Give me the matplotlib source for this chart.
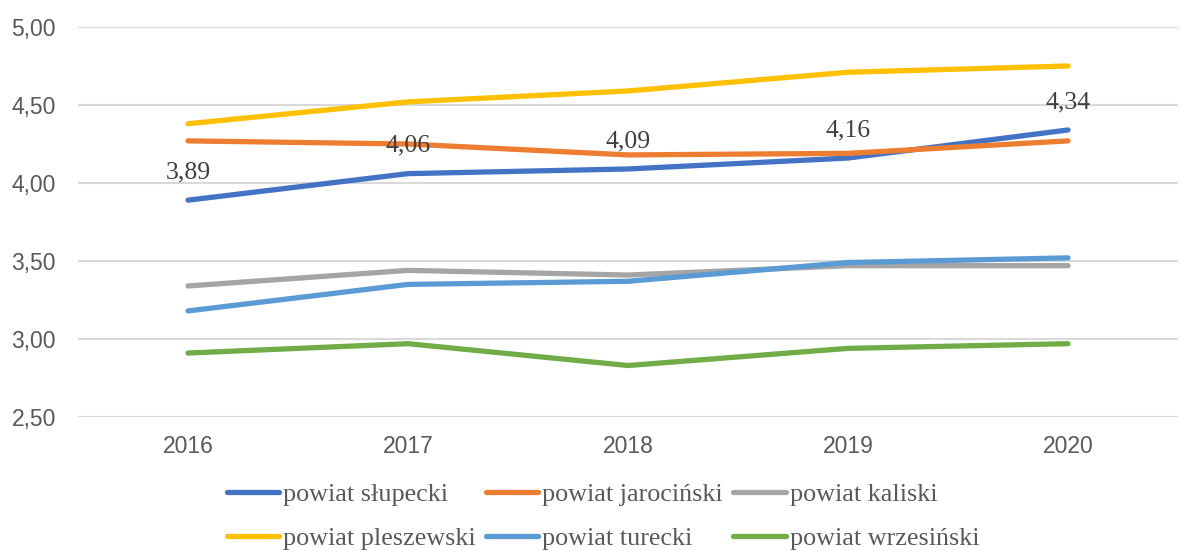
import matplotlib.pyplot as plt
from matplotlib.ticker import FuncFormatter

years = ["2016", "2017", "2018", "2019", "2020"]

slupecki = [3.89, 4.06, 4.09, 4.16, 4.34]
jarocinski = [4.27, 4.25, 4.18, 4.19, 4.27]
kaliski = [3.34, 3.44, 3.41, 3.47, 3.47]
pleszewski = [4.38, 4.52, 4.59, 4.71, 4.75]
turecki = [3.18, 3.35, 3.37, 3.49, 3.52]
wrzesinski = [2.91, 2.97, 2.83, 2.94, 2.97]

series = [
    ("powiat słupecki", slupecki, "#4472C4"),
    ("powiat jarociński", jarocinski, "#ED7D31"),
    ("powiat kaliski", kaliski, "#A5A5A5"),
    ("powiat pleszewski", pleszewski, "#FFC000"),
    ("powiat turecki", turecki, "#5B9BD5"),
    ("powiat wrzesiński", wrzesinski, "#70AD47"),
]

W, H = 1181, 551
fig = plt.figure(figsize=(W / 100, H / 100), dpi=100)
ax = fig.add_axes([78 / W, 1 - 417 / H, 1100 / W, 390 / H])

x = list(range(len(years)))
lines = {}
for name, vals, color in series:
    (ln,) = ax.plot(x, vals, color=color, lw=3.8, solid_capstyle="round",
                    solid_joinstyle="round", label=name)
    lines[name] = ln

for xi, v in zip(x, slupecki):
    ax.annotate(f"{v:.2f}".replace(".", ","), (xi, v), xytext=(0, 20),
                textcoords="offset points", ha="center", va="center",
                fontsize=18.5, family="Liberation Serif", color="#404040")

ax.set_xlim(-0.5, len(years) - 0.5)
ax.set_ylim(2.5, 5.0)
ax.set_yticks([2.5, 3.0, 3.5, 4.0, 4.5, 5.0])
ax.yaxis.set_major_formatter(FuncFormatter(lambda v, p: f"{v:.2f}".replace(".", ",")))
ax.set_xticks(x)
ax.set_xticklabels(years)
ax.tick_params(length=0, labelsize=16.5, labelcolor="#595959", pad=13)
ax.tick_params(axis="y", pad=16)
for lbl in ax.get_xticklabels() + ax.get_yticklabels():
    lbl.set_family("Liberation Sans")
for s in ax.spines.values():
    s.set_visible(False)
ax.grid(axis="y", color="#D9D9D9", lw=1.5)
ax.set_axisbelow(True)

order = ["powiat słupecki", "powiat pleszewski", "powiat jarociński",
         "powiat turecki", "powiat kaliski", "powiat wrzesiński"]
leg = fig.legend([lines[n] for n in order], order, ncol=3, loc="upper center",
                 bbox_to_anchor=(603 / W, 1 - 472 / H), frameon=False,
                 prop={"family": "Liberation Serif", "size": 18.8},
                 handlelength=2.0, handletextpad=0.15, columnspacing=0.4,
                 labelspacing=0.8, borderaxespad=0.0)
for t in leg.get_texts():
    t.set_color("#595959")

fig.savefig("out.png", dpi=100)
